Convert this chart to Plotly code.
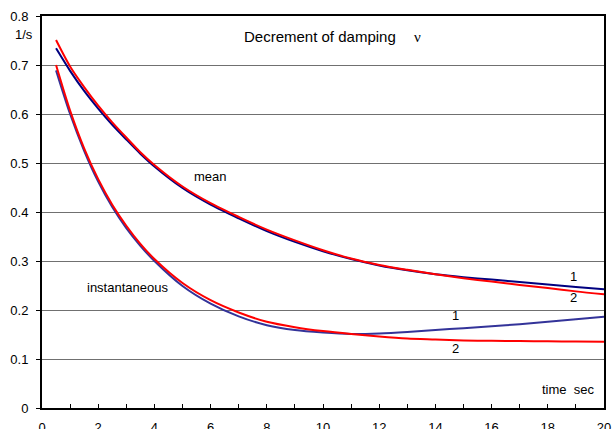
import plotly.graph_objects as go

# time, s
t = [0.5, 1.0, 1.5, 2.0, 2.5, 3.0, 3.5, 4.0, 5.0, 6.0, 7.0, 8.0, 9.0, 10.0,
     11.0, 12.0, 13.0, 14.0, 15.0, 16.0, 17.0, 18.0, 19.0, 20.0]

mean_1 = [0.734, 0.688, 0.647, 0.611, 0.578, 0.548, 0.519, 0.493, 0.449, 0.415,
          0.387, 0.361, 0.339, 0.320, 0.304, 0.291, 0.281, 0.273, 0.267, 0.262,
          0.257, 0.252, 0.247, 0.2425]
mean_2 = [0.751, 0.697, 0.655, 0.617, 0.583, 0.552, 0.522, 0.496, 0.452, 0.418,
          0.390, 0.364, 0.342, 0.322, 0.305, 0.292, 0.282, 0.273, 0.265, 0.258,
          0.251, 0.245, 0.238, 0.232]
inst_1 = [0.689, 0.600, 0.525, 0.462, 0.410, 0.367, 0.331, 0.300, 0.249, 0.213,
          0.187, 0.169, 0.159, 0.154, 0.151, 0.152, 0.155, 0.159, 0.163, 0.167,
          0.171, 0.176, 0.181, 0.186]
inst_2 = [0.700, 0.607, 0.530, 0.467, 0.415, 0.372, 0.335, 0.304, 0.255, 0.220,
          0.195, 0.176, 0.165, 0.157, 0.151, 0.146, 0.142, 0.140, 0.138, 0.137,
          0.1365, 0.136, 0.1355, 0.135]

x_ticks = list(range(0, 21))
x_tick_text = [str(v) if v % 2 == 0 else "" for v in x_ticks]

FONT = "Liberation Sans, Arial, sans-serif"

fig = go.Figure()
for y, c in [(inst_1, "#333399"), (inst_2, "#FF0000"), (mean_1, "#000080"), (mean_2, "#FF0000")]:
    fig.add_trace(go.Scatter(x=t, y=y, mode="lines",
                             line=dict(color=c, width=2, shape="spline", smoothing=0.8),
                             showlegend=False, hoverinfo="skip"))

ann = [
    ("Decrement of damping", 9.89, 0.758, 15, FONT, "x"),
    ("ν", 13.38, 0.758, 15, "Liberation Serif, Times New Roman, serif", "x"),
    ("mean", 6.01, 0.4724, 13, FONT, "x"),
    ("instantaneous", 3.06, 0.2459, 13, FONT, "x"),
    ("1", 18.93, 0.268, 13, FONT, "x"),
    ("2", 18.93, 0.2255, 13, FONT, "x"),
    ("1", 14.73, 0.1888, 13, FONT, "x"),
    ("2", 14.73, 0.1214, 13, FONT, "x"),
    ("time&nbsp;&nbsp;sec", 18.74, 0.0378, 13, FONT, "x"),
    ("1/s", -0.032, 0.762, 13, FONT, "paper"),
]
for text, x, y, size, fam, xr in ann:
    fig.add_annotation(x=x, y=y, xref=xr, yref="y", text=text, showarrow=False,
                       xanchor="center", yanchor="middle",
                       font=dict(family=fam, size=size, color="black"))

fig.update_layout(
    width=615, height=429,
    margin=dict(l=42, r=11, t=16, b=20.5, autoexpand=False),
    paper_bgcolor="white", plot_bgcolor="white",
    font=dict(family=FONT, size=13, color="black"),
)
fig.update_xaxes(range=[0, 20], tickmode="array", tickvals=x_ticks, ticktext=x_tick_text,
                 ticks="inside", ticklen=4, tickcolor="black", tickwidth=1,
                 showline=True, linecolor="black", linewidth=2, mirror=True,
                 showgrid=False, zeroline=False, ticklabelstandoff=6, automargin=False)
fig.update_yaxes(range=[0, 0.8], dtick=0.1, tick0=0,
                 ticks="outside", ticklen=4, tickcolor="black", tickwidth=1,
                 showline=True, linecolor="black", linewidth=2, mirror=True,
                 showgrid=True, gridcolor="#707070", gridwidth=1, zeroline=False,
                 ticklabelstandoff=5, automargin=False)

fig.write_html("out.html")
